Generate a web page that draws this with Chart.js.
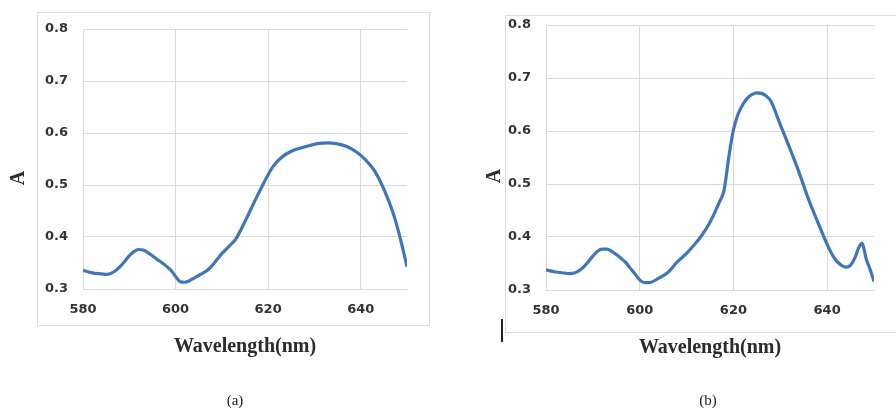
<!DOCTYPE html>
<html>
<head>
<meta charset="utf-8">
<script src="https://cdn.jsdelivr.net/npm/chart.js@4.4.1/dist/chart.umd.min.js"></script>
<style>
  html, body { margin: 0; padding: 0; background: #ffffff; }
  #wrap { position: relative; width: 896px; height: 410px; overflow: hidden; background: #fff; }
  .box { position: absolute; border: 1px solid #dcdcdc; box-sizing: border-box; }
  canvas { position: absolute; top: 0; }
  .ytitle { position: absolute; font-family: "Liberation Serif", "Times New Roman", serif; font-weight: bold; font-size: 20px; color: #2b2b2b; transform: translate(-50%, -50%) rotate(-90deg); line-height: 1; }
  .cap { position: absolute; font-family: "Liberation Serif", "Times New Roman", serif; font-size: 15px; color: #222; transform: translate(-50%, -50%); line-height: 1; }
  .stray { position: absolute; left: 501px; top: 319px; width: 1.5px; height: 23px; background: #222; }
</style>
</head>
<body>
<div id="wrap">
  <div class="box" style="left:37px; top:12px; width:393px; height:314px;"></div>
  <div class="box" style="left:505px; top:15px; width:400px; height:318px;"></div>
  <canvas id="ca" width="448" height="410" style="left:0px;"></canvas>
  <canvas id="cb" width="448" height="410" style="left:448px;"></canvas>
  <div class="ytitle" style="left:16.5px; top:178px;">A</div>
  <div class="ytitle" style="left:493px; top:176px;">A</div>
  <div class="cap" style="left:235px; top:400px;">(a)</div>
  <div class="cap" style="left:708px; top:400px;">(b)</div>
  <div class="stray"></div>
</div>
<script>
// ---- data ----
const xTickValues = [580, 600, 620, 640];
const yTickValues = [0.3, 0.4, 0.5, 0.6, 0.7, 0.8];
const xTitle = 'Wavelength(nm)';

// (a)
const wavelengthA = [580, 582, 584, 585, 586, 587, 588, 589, 590, 591, 592, 593, 594, 595, 596, 597, 598, 599, 600, 601, 602, 603, 604, 605, 606, 607, 608, 609, 610, 611, 612, 613, 615, 617, 619, 621, 623, 625, 627, 629, 631, 633, 635, 637, 639, 641, 643, 645, 647, 648.5, 650];
const absorbA    = [0.336, 0.331, 0.329, 0.328, 0.330, 0.335, 0.343, 0.353, 0.364, 0.372, 0.376, 0.375, 0.370, 0.364, 0.357, 0.351, 0.344, 0.336, 0.324, 0.314, 0.313, 0.316, 0.321, 0.326, 0.331, 0.337, 0.346, 0.357, 0.368, 0.377, 0.386, 0.396, 0.430, 0.467, 0.503, 0.535, 0.554, 0.565, 0.571, 0.576, 0.580, 0.581, 0.579, 0.574, 0.564, 0.549, 0.527, 0.492, 0.446, 0.399, 0.343];

// (b)
const wavelengthB = [580, 582, 584, 585, 586, 587, 588, 589, 590, 591, 592, 593, 594, 595, 596, 597, 598, 599, 600, 601, 602, 604, 606, 608, 610, 612, 613, 615, 616, 617, 618, 619, 620, 621, 622, 623, 624, 625, 626, 627, 628, 630, 632, 634, 636, 638, 640, 641, 642, 643, 644, 645, 646, 646.7, 647.4, 648.4, 649.2, 650];
const absorbB    = [0.338, 0.334, 0.332, 0.331, 0.332, 0.336, 0.343, 0.353, 0.364, 0.373, 0.377, 0.377, 0.373, 0.367, 0.360, 0.352, 0.341, 0.330, 0.319, 0.314, 0.314, 0.322, 0.333, 0.353, 0.369, 0.389, 0.400, 0.428, 0.446, 0.466, 0.488, 0.550, 0.602, 0.632, 0.650, 0.662, 0.669, 0.672, 0.671, 0.666, 0.656, 0.612, 0.568, 0.522, 0.472, 0.428, 0.386, 0.368, 0.355, 0.347, 0.343, 0.347, 0.362, 0.379, 0.388, 0.357, 0.338, 0.316];

const lineColor = '#3f76ba';
const gridColor = '#d9d9d9';
const tickFont = { family: 'DejaVu Sans', size: 13, weight: 'bold' };
const titleFont = { family: 'Liberation Serif', size: 20, weight: 'bold' };

function toPoints(xs, ys) { return xs.map((x, i) => ({ x: x, y: ys[i] })); }

function makeChart(id, xs, ys, yWidth, pad) {
  return new Chart(document.getElementById(id), {
    type: 'line',
    data: {
      datasets: [{
        data: toPoints(xs, ys),
        borderColor: lineColor,
        borderWidth: 3.2,
        pointRadius: 0,
        tension: 0.4,
        cubicInterpolationMode: 'monotone',
        fill: false
      }]
    },
    options: {
      responsive: false,
      animation: false,
      devicePixelRatio: 1,
      layout: { padding: pad },
      plugins: { legend: { display: false }, tooltip: { enabled: false } },
      scales: {
        x: {
          type: 'linear', min: 580, max: 650,
          afterBuildTicks: s => { s.ticks = xTickValues.map(v => ({ value: v })); },
          afterFit: s => { s.height = 70; },
          grid: { color: gridColor, drawTicks: false, lineWidth: 1 },
          border: { color: gridColor, width: 1 },
          ticks: { padding: 13, font: tickFont, color: '#333333', maxRotation: 0, autoSkip: false },
          title: { display: true, text: xTitle, font: titleFont, color: '#2b2b2b', padding: 0 }
        },
        y: {
          type: 'linear', min: 0.3, max: 0.8,
          afterBuildTicks: s => { s.ticks = yTickValues.map(v => ({ value: v })); },
          afterFit: s => { s.width = yWidth; },
          grid: { color: gridColor, drawTicks: false, lineWidth: 1 },
          border: { color: gridColor, width: 1 },
          ticks: { padding: 15, font: tickFont, color: '#333333', callback: v => Number(v).toFixed(1) }
        }
      }
    }
  });
}

makeChart('ca', wavelengthA, absorbA, 83, { left: 0, right: 41, top: 29, bottom: 51 });
makeChart('cb', wavelengthB, absorbB, 98, { left: 0, right: 22, top: 25, bottom: 50 });
</script>
</body>
</html>
